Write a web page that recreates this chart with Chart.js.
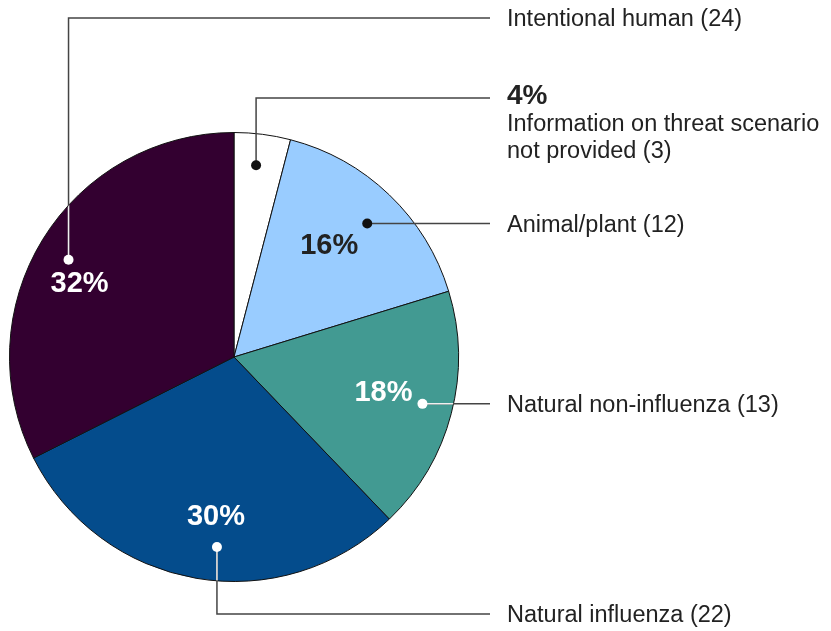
<!DOCTYPE html>
<html>
<head>
<meta charset="utf-8">
<script src="https://cdn.jsdelivr.net/npm/chart.js@4/dist/chart.umd.min.js"></script>
<style>
  html, body { margin: 0; padding: 0; background: #fff; }
  #pie { display: block; }
</style>
</head>
<body>
<canvas id="pie" width="831" height="631"></canvas>
<script>
// slices, clockwise from 12 o'clock
const categories = [
  ['Information on threat scenario', 'not provided (3)'],
  ['Animal/plant (12)'],
  ['Natural non-influenza (13)'],
  ['Natural influenza (22)'],
  ['Intentional human (24)'],
]
const counts = [3, 12, 13, 22, 24]
const colors = ['#ffffff', '#99ccff', '#429a92', '#044c8c', '#330030']
const darkSlice = [false, false, true, true, true]

// callout layout: dot position (fraction along the slice, fraction of radius),
// leader route, label y, offset of the % text from the dot
const callouts = [
  { at: 0.45, r: 0.86, route: 'up', y: 98, pct: 'label' },
  { at: 0.52, r: 0.84, route: 'across', pct: [-38, 22] },
  { at: 0.49, r: 0.865, route: 'across', pct: [-39, -11] },
  { at: 0.457, r: 0.85, route: 'down', y: 614, pct: [-1, -30] },
  { at: 0.49, r: 0.855, route: 'up', y: 18, pct: [11, 24] },
]

const total = counts.reduce((a, b) => a + b, 0)
const percents = counts.map(c => Math.round(c / total * 100) + '%')

const FONT = '"Liberation Sans", Arial, sans-serif'
const TEXT_X = 507
const LINE_END = 490

const calloutPlugin = {
  id: 'callouts',
  afterDatasetsDraw(chart) {
    const ctx = chart.ctx
    const arcs = chart.getDatasetMeta(0).data
    const cx = arcs[0].x, cy = arcs[0].y, R = arcs[0].outerRadius

    arcs.forEach((arc, i) => {
      const c = callouts[i]
      const a = arc.startAngle + (arc.endAngle - arc.startAngle) * c.at
      const dx = cx + Math.cos(a) * R * c.r
      const dy = cy + Math.sin(a) * R * c.r
      const ly = c.route === 'across' ? dy : c.y

      const path = () => {
        ctx.beginPath()
        ctx.moveTo(dx, dy)
        if (c.route !== 'across') ctx.lineTo(dx, ly)
        ctx.lineTo(LINE_END, ly)
      }

      ctx.save()
      ctx.lineWidth = 1.5
      ctx.strokeStyle = '#444'
      path()
      ctx.stroke()
      if (darkSlice[i]) {
        // the part inside a dark slice is white
        ctx.beginPath()
        ctx.arc(cx, cy, R - 0.5, 0, Math.PI * 2)
        ctx.clip()
        ctx.strokeStyle = '#f0f0f0'
        path()
        ctx.stroke()
      }
      ctx.restore()

      ctx.save()
      ctx.fillStyle = darkSlice[i] ? '#ffffff' : '#111111'
      ctx.beginPath()
      ctx.arc(dx, dy, 5, 0, Math.PI * 2)
      ctx.fill()
      ctx.restore()

      // category text at the right
      ctx.save()
      ctx.fillStyle = '#222'
      ctx.textAlign = 'left'
      ctx.textBaseline = 'middle'
      if (c.pct === 'label') {
        ctx.font = 'bold 28px ' + FONT
        ctx.fillText(percents[i], TEXT_X, ly - 2)
        ctx.font = '23.5px ' + FONT
        categories[i].forEach((t, k) => ctx.fillText(t, TEXT_X, ly + 27 + k * 27))
      } else {
        ctx.font = '23.5px ' + FONT
        ctx.fillText(categories[i][0], TEXT_X, ly + 2)
        ctx.font = 'bold 29px ' + FONT
        ctx.textAlign = 'center'
        ctx.fillStyle = darkSlice[i] ? '#ffffff' : '#222222'
        ctx.fillText(percents[i], dx + c.pct[0], dy + c.pct[1])
      }
      ctx.restore()
    })
  },
}

const pieConfig = {
  type: 'pie',
  data: {
    labels: categories.map(c => c.join(' ')),
    datasets: [
      {
        data: counts,
        backgroundColor: colors,
        borderColor: '#111111',
        borderWidth: 1,
      },
    ],
  },
  options: {
    responsive: false,
    animation: false,
    events: [],
    layout: {
      padding: { left: 9, top: 132, right: 372, bottom: 49 },
    },
    plugins: {
      legend: { display: false },
      tooltip: { enabled: false },
    },
  },
  plugins: [calloutPlugin],
}

const pieCtx = document.getElementById('pie')
window.myPie = new Chart(pieCtx, pieConfig)
</script>
</body>
</html>
